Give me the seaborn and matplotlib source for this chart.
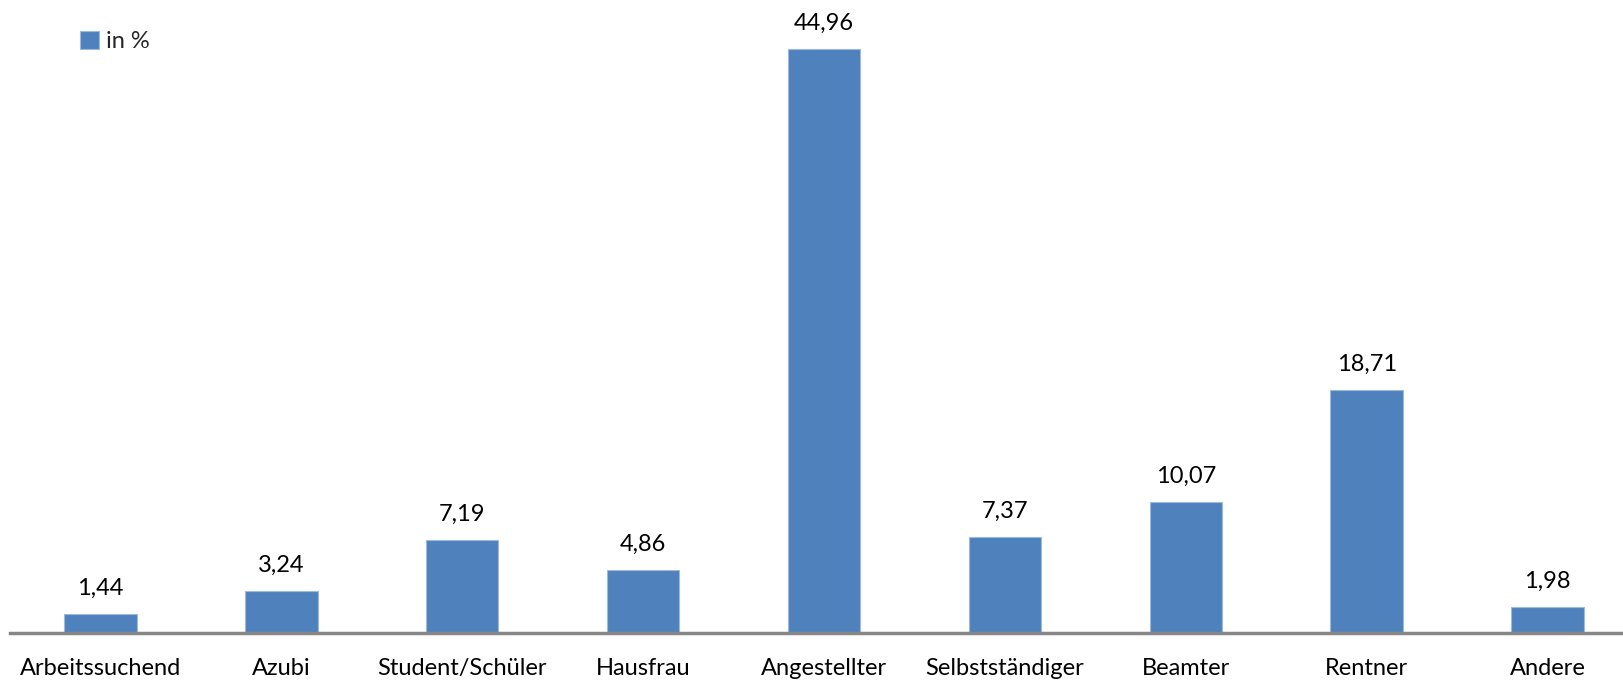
import numpy as np
import pandas as pd
import matplotlib
matplotlib.use("Agg")
import matplotlib.pyplot as plt
import seaborn as sns

categories = ["Arbeitssuchend", "Azubi", "Student/Schüler", "Hausfrau", "Angestellter",
              "Selbstständiger", "Beamter", "Rentner", "Andere"]
values = [1.44, 3.24, 7.19, 4.86, 44.96, 7.37, 10.07, 18.71, 1.98]
value_labels = ["1,44", "3,24", "7,19", "4,86", "44,96", "7,37", "10,07", "18,71", "1,98"]

df = pd.DataFrame({"Kategorie": categories, "Wert": values})

sns.set_theme(style="white")
plt.rcParams["font.family"] = ["Lato", "DejaVu Sans"]

W, H = 1623, 681
fig = plt.figure(figsize=(W / 100, H / 100), dpi=100)
# axes extends slightly past the right edge, like the cropped original
left, right = 10, 1638
bottom, top = 633, 10
ax = fig.add_axes([left / W, (H - bottom) / H, (right - left) / W, (bottom - top) / H])

bar_color = "#4F81BD"
sns.barplot(data=df, x="Kategorie", y="Wert", color=bar_color, saturation=1, width=0.4,
            edgecolor="#9DB9DD", linewidth=0.8, label="in %", ax=ax)

ax.set_ylim(0, 48)
ax.set_xlim(-0.5, len(categories) - 0.5)
ax.set_xlabel("")
ax.set_ylabel("")
ax.set_yticks([])
ax.tick_params(axis="x", length=0, labelsize=17, pad=18, colors="black")

for s in ["top", "right", "left"]:
    ax.spines[s].set_visible(False)
ax.spines["bottom"].set_color("#868686")
ax.spines["bottom"].set_linewidth(2.5)

for i, (v, lab) in enumerate(zip(values, value_labels)):
    ax.annotate(lab, (i, v), xytext=(0, 11), textcoords="offset points",
                ha="center", va="bottom", fontsize=17, color="black")

leg = ax.legend(loc="upper left", bbox_to_anchor=(80 / W, 1 - 31 / H),
                bbox_transform=fig.transFigure, frameon=False, fontsize=17,
                handlelength=0.8, handleheight=0.8, handletextpad=0.3,
                borderpad=0, borderaxespad=0)

fig.savefig("out.png", dpi=100)
